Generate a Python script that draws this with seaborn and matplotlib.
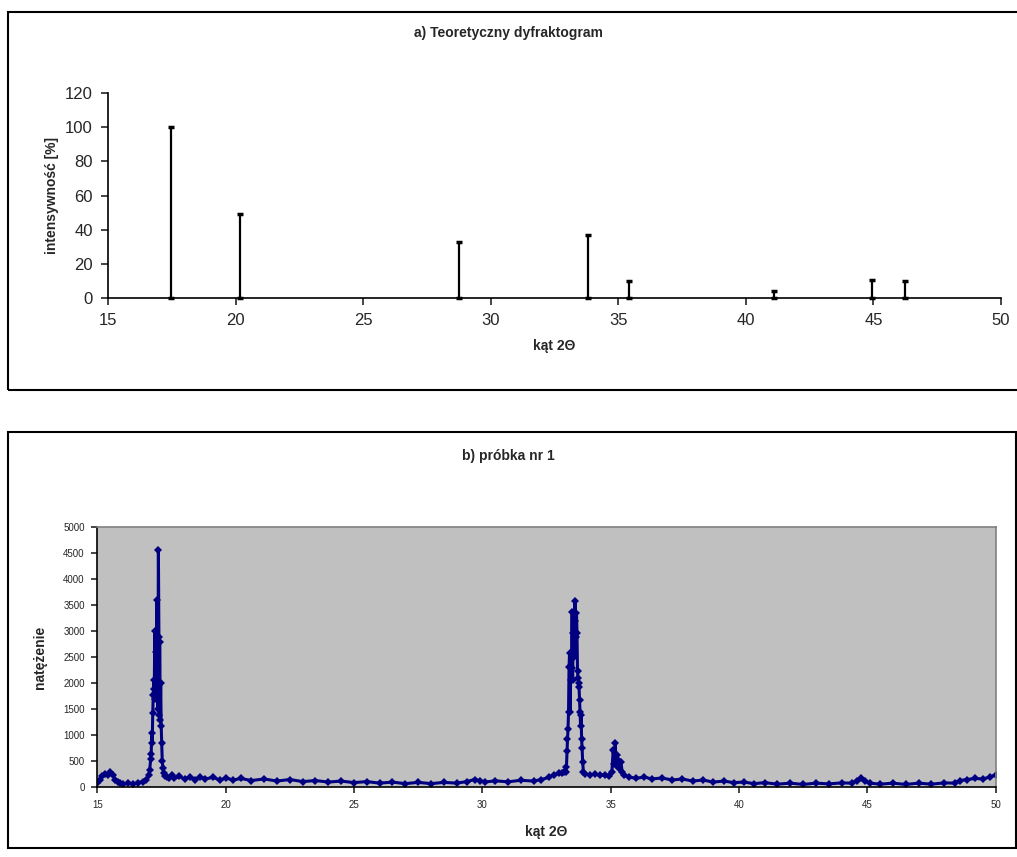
import numpy as np
import pandas as pd
import seaborn as sns
import matplotlib.pyplot as plt
from matplotlib.patches import Rectangle

sns.set_style("white")
plt.rcParams['font.family'] = ['Liberation Sans', 'DejaVu Sans']

# a) teoretyczny dyfraktogram
kat_teor = [17.45, 20.18, 28.74, 33.81, 35.42, 41.10, 44.94, 46.23]
intens_teor = [100, 49, 33, 37, 10, 4, 10.5, 10]

# b) próbka nr 1 (odczytane z wykresu)
kat_probka = [
    15.00, 15.10, 15.20, 15.30, 15.40, 15.50, 15.60, 15.70, 15.80, 15.90,
    16.00, 16.20, 16.40, 16.60, 16.80, 16.90, 17.00, 17.04, 17.08, 17.10,
    17.12, 17.14, 17.16, 17.18, 17.20, 17.22, 17.24, 17.26, 17.28, 17.30,
    17.32, 17.34, 17.36, 17.38, 17.40, 17.42, 17.43, 17.45, 17.47, 17.49,
    17.51, 17.53, 17.56, 17.58, 17.62, 17.70, 17.80, 17.90, 18.00, 18.20,
    18.40, 18.60, 18.80, 19.00, 19.20, 19.50, 19.80, 20.00, 20.30, 20.60,
    21.00, 21.50, 22.00, 22.50, 23.00, 23.50, 24.00, 24.50, 25.00, 25.50,
    26.00, 26.50, 27.00, 27.50, 28.00, 28.50, 29.00, 29.40, 29.70, 29.90,
    30.10, 30.50, 31.00, 31.50, 32.00, 32.30, 32.60, 32.80, 33.00, 33.10,
    33.18, 33.25, 33.28, 33.30, 33.32, 33.34, 33.36, 33.38, 33.40, 33.42,
    33.44, 33.46, 33.48, 33.50, 33.52, 33.54, 33.56, 33.58, 33.61, 33.63,
    33.65, 33.67, 33.69, 33.71, 33.73, 33.75, 33.77, 33.79, 33.81, 33.83,
    33.85, 33.87, 33.89, 33.91, 33.94, 34.00, 34.20, 34.40, 34.60, 34.80,
    34.95, 35.05, 35.10, 35.14, 35.18, 35.21, 35.24, 35.27, 35.30, 35.34,
    35.40, 35.45, 35.52, 35.70, 36.00, 36.30, 36.60, 37.00, 37.40, 37.80,
    38.20, 38.60, 39.00, 39.40, 39.80, 40.20, 40.60, 41.00, 41.50, 42.00,
    42.50, 43.00, 43.50, 44.00, 44.40, 44.60, 44.75, 44.90, 45.10, 45.50,
    46.00, 46.50, 47.00, 47.50, 48.00, 48.40, 48.60, 48.90, 49.20, 49.50,
    49.80, 50.00,
]
natezenie = [
    90, 150, 210, 260, 240, 290, 230, 150, 110, 80,
    60, 80, 70, 90, 110, 150, 230, 330, 540, 650,
    1040, 860, 1420, 1780, 2060, 1900, 3000, 1700, 2600, 1900,
    3600, 2200, 1500, 4560, 2900, 1400, 2800, 1300, 2000, 1170,
    860, 510, 370, 270, 210, 200, 180, 230, 170, 210,
    160, 200, 150, 200, 160, 190, 140, 180, 140, 170,
    130, 160, 120, 150, 110, 130, 100, 120, 90, 110,
    80, 100, 70, 95, 70, 95, 80, 110, 150, 130,
    100, 125, 105, 135, 120, 150, 190, 240, 270, 280,
    300, 300, 400, 690, 920, 1120, 1450, 2310, 2590, 1450,
    2060, 2590, 2300, 3380, 2060, 2970, 3360, 2500, 3590, 3200,
    2900, 3360, 2970, 2240, 2100, 2000, 1920, 1680, 1450, 1170,
    1400, 920, 750, 490, 300, 260, 240, 250, 230, 240,
    220, 300, 720, 450, 850, 520, 620, 400, 530, 380,
    490, 300, 240, 200, 170, 200, 160, 180, 140, 160,
    120, 140, 100, 120, 90, 100, 70, 90, 60, 80,
    55, 80, 65, 85, 80, 130, 175, 120, 80, 60,
    80, 55, 80, 60, 85, 80, 130, 150, 170, 160,
    200, 240,
]

df = pd.DataFrame({'kat': kat_probka, 'natezenie': natezenie})

fig = plt.figure(figsize=(10.17, 8.57), dpi=100)

# ramki wokół obu wykresów
fig.patches.append(Rectangle((8 / 1017, 1 - 390 / 857), 1.01, 378 / 857,
                             transform=fig.transFigure, fill=False,
                             edgecolor='black', linewidth=1.5))
fig.patches.append(Rectangle((8 / 1017, 1 - 848 / 857), 1008 / 1017, 416 / 857,
                             transform=fig.transFigure, fill=False,
                             edgecolor='black', linewidth=1.5))

# wykres a
ax1 = fig.add_axes([108 / 1017, 1 - 298 / 857, 893 / 1017, 205 / 857])
h = np.array(intens_teor)
ax1.errorbar(kat_teor, np.zeros_like(h), yerr=[np.zeros_like(h), h],
             fmt='none', ecolor='black', elinewidth=1.6, capsize=2.5,
             capthick=2.5, zorder=4, clip_on=False)
ax1.set_xlim(15, 50)
ax1.set_ylim(0, 120)
ax1.set_xticks(range(15, 51, 5))
ax1.set_yticks(range(0, 121, 20))
ax1.tick_params(axis='both', direction='out', length=5, width=1.2,
                labelsize=12, bottom=True, left=True, pad=6)
for s in ['top', 'right']:
    ax1.spines[s].set_visible(False)
for s in ['left', 'bottom']:
    ax1.spines[s].set_color('black')
    ax1.spines[s].set_linewidth(1.2)
ax1.set_xlabel('kąt 2Θ', fontsize=10, fontweight='bold', labelpad=8)
ax1.set_ylabel('intensywność [%]', fontsize=10, fontweight='bold', labelpad=4)
fig.text(0.5, 1 - 33 / 857, 'a) Teoretyczny dyfraktogram', ha='center', va='center',
         fontsize=10, fontweight='bold')

# wykres b
ax2 = fig.add_axes([97.3 / 1017, 1 - 787.3 / 857, 898.3 / 1017, 260 / 857])
ax2.set_facecolor('#c0c0c0')
sns.lineplot(data=df, x='kat', y='natezenie', ax=ax2, color='#000080',
             linewidth=2.2, marker='D', markersize=4, markeredgewidth=0,
             sort=False)
ax2.set_xlim(15, 50)
ax2.set_ylim(0, 5000)
ax2.set_xticks(range(15, 51, 5))
ax2.set_yticks(range(0, 5001, 500))
ax2.tick_params(axis='both', direction='out', length=4, width=1.2,
                labelsize=7, bottom=True, left=True, pad=5)
for s in ['top', 'right']:
    ax2.spines[s].set_color('#808080')
    ax2.spines[s].set_linewidth(1.2)
for s in ['left', 'bottom']:
    ax2.spines[s].set_color('black')
    ax2.spines[s].set_linewidth(1.2)
ax2.set_xlabel('kąt 2Θ', fontsize=10, fontweight='bold', labelpad=11)
ax2.set_ylabel('natężenie', fontsize=10, fontweight='bold', labelpad=12)
fig.text(0.5, 1 - 456 / 857, 'b) próbka nr 1', ha='center', va='center',
         fontsize=10, fontweight='bold')

fig.savefig('out.png', dpi=100)
